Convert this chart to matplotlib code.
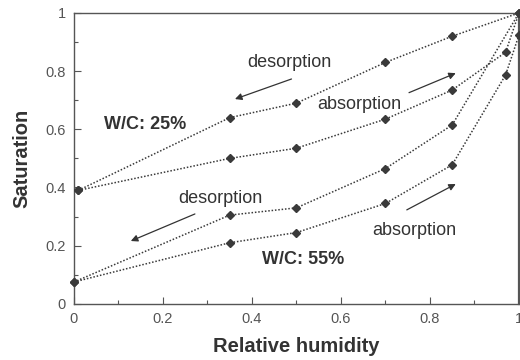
import matplotlib
matplotlib.use("Agg")
import matplotlib.pyplot as plt
from matplotlib.ticker import MultipleLocator

plt.rcParams['font.family'] = ['Liberation Sans', 'DejaVu Sans']

# W/C 25%
rh_25_des = [0.01, 0.35, 0.5, 0.7, 0.85, 1.0]
sat_25_des = [0.39, 0.64, 0.69, 0.83, 0.92, 1.0]
rh_25_abs = [0.01, 0.35, 0.5, 0.7, 0.85, 0.97, 1.0]
sat_25_abs = [0.39, 0.50, 0.535, 0.635, 0.735, 0.865, 1.0]
# W/C 55%
rh_55_des = [0.0, 0.35, 0.5, 0.7, 0.85, 1.0]
sat_55_des = [0.075, 0.305, 0.33, 0.465, 0.615, 1.0]
rh_55_abs = [0.0, 0.35, 0.5, 0.7, 0.85, 0.97, 1.0]
sat_55_abs = [0.075, 0.21, 0.245, 0.345, 0.478, 0.787, 0.924]

xticks = [0, 0.2, 0.4, 0.6, 0.8, 1]
xticklabels = ["0", "0.2", "0.4", "0.6", "0.8", "1"]
yticks = [0, 0.2, 0.4, 0.6, 0.8, 1]
yticklabels = ["0", "0.2", "0.4", "0.6", "0.8", "1"]

fig = plt.figure(figsize=(5.2, 3.6), dpi=100)
ax = fig.add_axes([0.142, 0.156, 0.856, 0.808])

lc = '#3a3a3a'
for xs, ys in [(rh_25_des, sat_25_des), (rh_25_abs, sat_25_abs),
               (rh_55_des, sat_55_des), (rh_55_abs, sat_55_abs)]:
    ax.plot(xs, ys, linestyle=(0, (1, 1.2)), color=lc, linewidth=1.1,
            marker='D', markersize=4, markerfacecolor=lc, markeredgecolor=lc,
            clip_on=False, zorder=3)

ax.set_xlim(0, 1)
ax.set_ylim(0, 1)
ax.set_xticks(xticks)
ax.set_xticklabels(xticklabels)
ax.set_yticks(yticks)
ax.set_yticklabels(yticklabels)
ax.xaxis.set_minor_locator(MultipleLocator(0.1))
ax.yaxis.set_minor_locator(MultipleLocator(0.1))
ax.tick_params(which='both', direction='in', color='#555555', width=0.8,
               labelcolor='#555555', labelsize=10.5, pad=6)
ax.tick_params(which='major', length=5)
ax.tick_params(which='minor', length=3)
for s in ax.spines.values():
    s.set_color('#555555')
    s.set_linewidth(1.0)
ax.spines['right'].set_linewidth(1.6)

ax.set_xlabel('Relative humidity', fontsize=14.5, fontweight='bold',
              color='#333333', labelpad=8)
ax.set_ylabel('Saturation', fontsize=14.5, fontweight='bold',
              color='#333333', labelpad=10)

tc = '#333333'
ax.text(0.485, 0.828, 'desorption', fontsize=13, color=tc, ha='center', va='center')
ax.text(0.642, 0.687, 'absorption', fontsize=13, color=tc, ha='center', va='center')
ax.text(0.329, 0.361, 'desorption', fontsize=13, color=tc, ha='center', va='center')
ax.text(0.766, 0.252, 'absorption', fontsize=13, color=tc, ha='center', va='center')
ax.text(0.16, 0.615, 'W/C: 25%', fontsize=13, fontweight='bold', color=tc,
        ha='center', va='center')
ax.text(0.516, 0.154, 'W/C: 55%', fontsize=13, fontweight='bold', color=tc,
        ha='center', va='center')

arrows = [((0.489, 0.773), (0.362, 0.704)),
          ((0.753, 0.726), (0.858, 0.793)),
          ((0.272, 0.309), (0.128, 0.216)),
          ((0.748, 0.323), (0.858, 0.412))]
for tail, head in arrows:
    ax.annotate('', xy=head, xytext=tail,
                arrowprops=dict(arrowstyle='-|>', color=tc, lw=0.9,
                                mutation_scale=10, shrinkA=0, shrinkB=0))

fig.savefig('out.png', dpi=100)
